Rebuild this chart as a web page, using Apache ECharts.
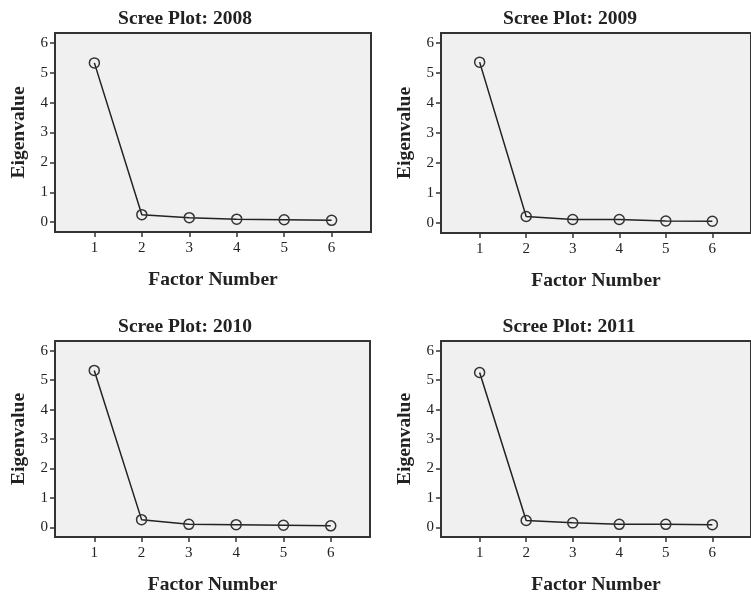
<!DOCTYPE html>
<html>
<head>
<meta charset="utf-8">
<script src="https://cdn.jsdelivr.net/npm/echarts@6/dist/echarts.min.js"></script>
<style>
html,body{margin:0;padding:0;background:#fff;}
#chart{width:751px;height:596px;}
</style>
</head>
<body>
<div id="chart"></div>
<script>
const factors = [1, 2, 3, 4, 5, 6];
const years = ['2008', '2009', '2010', '2011'];
const eig2008 = [5.33, 0.25, 0.15, 0.10, 0.08, 0.06];
const eig2009 = [5.36, 0.22, 0.12, 0.12, 0.07, 0.06];
const eig2010 = [5.33, 0.26, 0.10, 0.09, 0.07, 0.05];
const eig2011 = [5.26, 0.23, 0.15, 0.10, 0.10, 0.09];
const yTicks = [0, 1, 2, 3, 4, 5, 6];
const allEig = [eig2008, eig2009, eig2010, eig2011];

const serif = '"Liberation Serif", "Times New Roman", serif';
const grids = [
  {left: 55, top: 33, width: 316, height: 199},
  {left: 441, top: 33, width: 314, height: 200},
  {left: 55, top: 341, width: 315, height: 199},
  {left: 441, top: 341, width: 314, height: 199}
];
const titlePos = [
  {x: 185, y: 9}, {x: 570, y: 9}, {x: 185, y: 317}, {x: 569, y: 317}
];

const option = {
  backgroundColor: '#ffffff',
  animation: false,
  title: years.map((y, i) => ({
    text: 'Scree Plot: ' + y,
    left: titlePos[i].x,
    top: titlePos[i].y,
    textAlign: 'center',
    padding: 0,
    textStyle: {fontFamily: serif, fontWeight: 'bold', fontSize: 19.5, color: '#222'}
  })),
  grid: grids.map(g => Object.assign({
    show: true, backgroundColor: '#f0f0f0', borderColor: '#333', borderWidth: 2,
    containLabel: false
  }, g)),
  xAxis: grids.map((g, i) => ({
    type: 'value', gridIndex: i, min: 0.17, max: 6.83,
    name: 'Factor Number', nameLocation: 'middle', nameGap: 38,
    nameTextStyle: {fontFamily: serif, fontWeight: 'bold', fontSize: 19.5, color: '#222'},
    axisLine: {show: false, onZero: false},
    splitLine: {show: false},
    axisTick: {show: true, length: 5, customValues: factors, lineStyle: {color: '#333', width: 1.5}},
    axisLabel: {customValues: factors, fontFamily: serif, fontSize: 15, color: '#222', margin: 9}
  })),
  yAxis: grids.map((g, i) => ({
    type: 'value', gridIndex: i, min: -0.33, max: 6.33,
    name: 'Eigenvalue', nameLocation: 'middle', nameGap: 26, nameRotate: 90,
    nameTextStyle: {fontFamily: serif, fontWeight: 'bold', fontSize: 19.5, color: '#222'},
    axisLine: {show: false, onZero: false},
    splitLine: {show: false},
    axisTick: {show: true, length: 5, customValues: yTicks, lineStyle: {color: '#333', width: 1.5}},
    axisLabel: {customValues: yTicks, fontFamily: serif, fontSize: 15, color: '#222', margin: 7}
  })),
  series: allEig.map((vals, i) => ({
    type: 'line', xAxisIndex: i, yAxisIndex: i,
    data: factors.map((f, k) => [f, vals[k]]),
    symbol: 'circle', symbolSize: 10, showSymbol: true,
    lineStyle: {color: '#222', width: 1.5},
    itemStyle: {color: 'rgba(0,0,0,0)', borderColor: '#333', borderWidth: 1.5},
    z: 3
  }))
};

const chart = echarts.init(document.getElementById('chart'), null, {renderer: 'canvas'});
chart.setOption(option);
</script>
</body>
</html>
